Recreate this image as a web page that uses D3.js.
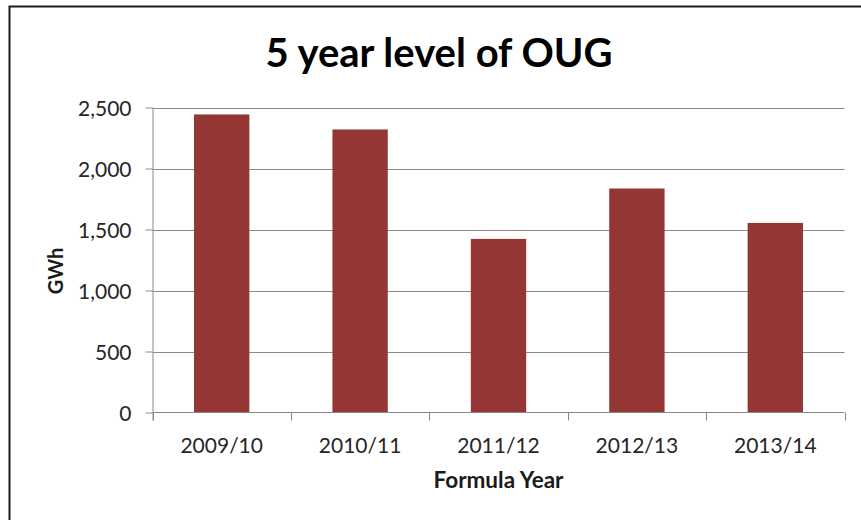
<!DOCTYPE html>
<html>
<head>
<meta charset="utf-8">
<script src="https://cdn.jsdelivr.net/npm/d3@7"></script>
<style>
  html, body { margin: 0; padding: 0; background: #ffffff; overflow: hidden; }
  svg { display: block; }
  text { font-family: Lato, "Open Sans", sans-serif; }
</style>
</head>
<body>
<svg id="chart" width="861" height="520"></svg>
<script>
// Annual OUG level, GWh, by formula year
const years = ["2009/10", "2010/11", "2011/12", "2012/13", "2013/14"];
const gwh = [2443, 2320, 1423, 1836, 1554];
const yTicks = [0, 500, 1000, 1500, 2000, 2500];

const W = 861, H = 520;
const plot = { left: 152.5, right: 844.5, top: 107.5, bottom: 412.5 };

const svg = d3.select("#chart");

// chart frame (its right and bottom edges run off the page)
svg.append("rect")
  .attr("x", 9.5).attr("y", 6.5)
  .attr("width", W + 40).attr("height", H + 40)
  .attr("fill", "#ffffff")
  .attr("stroke", "#1a1a1a").attr("stroke-width", 2);

const x = d3.scaleBand()
  .domain(years)
  .range([plot.left, plot.right])
  .paddingInner(0.6)
  .paddingOuter(0.3);

const y = d3.scaleLinear()
  .domain([0, 2500])
  .range([plot.bottom, plot.top]);

// horizontal gridlines
svg.append("g")
  .selectAll("line")
  .data(yTicks.filter(d => d > 0))
  .join("line")
  .attr("x1", plot.left).attr("x2", plot.right)
  .attr("y1", d => Math.round(y(d)) + 0.5).attr("y2", d => Math.round(y(d)) + 0.5)
  .attr("stroke", "#8a8a8a").attr("stroke-width", 1);

// bars
svg.append("g")
  .selectAll("rect")
  .data(years.map((c, i) => ({ c, v: gwh[i] })))
  .join("rect")
  .attr("x", d => x(d.c))
  .attr("width", x.bandwidth())
  .attr("y", d => y(d.v))
  .attr("height", d => y(0) - y(d.v))
  .attr("fill", "#943634");

// y axis
const yAxis = d3.axisLeft(y)
  .tickValues(yTicks)
  .tickFormat(d3.format(","))
  .tickSize(7)
  .tickPadding(14);
const gy = svg.append("g")
  .attr("transform", `translate(${plot.left},0)`)
  .call(yAxis);
gy.select(".domain").attr("stroke", "#8a8a8a").attr("d", `M0.5,${plot.top}V${plot.bottom + 8}`);
gy.selectAll(".tick line").attr("stroke", "#8a8a8a");
gy.selectAll(".tick text")
  .attr("fill", "#262626")
  .style("font-size", "21px")
  .attr("dy", "0.36em");

// x axis: ticks sit on category boundaries
const boundaries = d3.range(years.length + 1).map(i => plot.left + i * x.step());
const gx = svg.append("g");
gx.append("line")
  .attr("x1", plot.left).attr("x2", plot.right)
  .attr("y1", plot.bottom).attr("y2", plot.bottom)
  .attr("stroke", "#8a8a8a");
gx.selectAll("line.tk")
  .data(boundaries)
  .join("line").attr("class", "tk")
  .attr("x1", d => Math.round(d) + 0.5).attr("x2", d => Math.round(d) + 0.5)
  .attr("y1", plot.bottom).attr("y2", plot.bottom + 8)
  .attr("stroke", "#8a8a8a");
gx.selectAll("text")
  .data(years)
  .join("text")
  .attr("x", d => x(d) + x.bandwidth() / 2)
  .attr("y", 453)
  .attr("text-anchor", "middle")
  .attr("fill", "#262626")
  .style("font-size", "21px")
  .text(d => d);

// titles
svg.append("text")
  .attr("x", 439).attr("y", 67)
  .attr("text-anchor", "middle")
  .attr("fill", "#000000")
  .style("font-size", "40px").style("font-weight", "bold")
  .text("5 year level of OUG");

svg.append("text")
  .attr("x", (plot.left + plot.right) / 2).attr("y", 488)
  .attr("text-anchor", "middle")
  .attr("fill", "#1a1a1a")
  .style("font-size", "22.5px").style("font-weight", "bold")
  .text("Formula Year");

svg.append("text")
  .attr("transform", "translate(63,271) rotate(-90)")
  .attr("text-anchor", "middle")
  .attr("fill", "#1a1a1a")
  .style("font-size", "20px").style("font-weight", "bold")
  .text("GWh");
</script>
</body>
</html>
